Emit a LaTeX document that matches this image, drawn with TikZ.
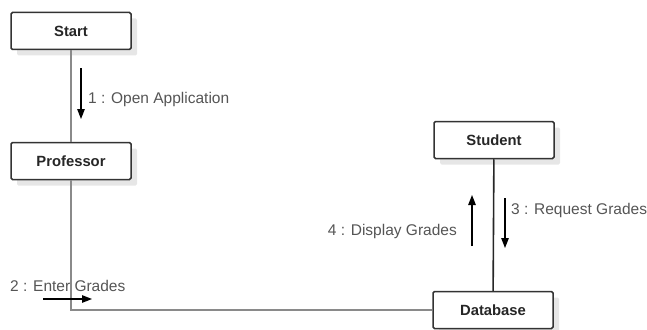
\documentclass[tikz,border=0pt]{standalone}
\usepackage{fontspec}
\setmainfont{Liberation Sans}
\usetikzlibrary{arrows.meta,shadows}
\definecolor{boxline}{HTML}{333333}
\definecolor{linkgray}{HTML}{8A8A8A}
\definecolor{msgtext}{HTML}{555555}
\definecolor{shadowgray}{HTML}{E6E6E6}
\tikzset{
  obj/.style={draw=boxline, line width=1.5pt, rounded corners=1.5pt, fill=white,
    minimum width=120pt, minimum height=37pt, inner sep=0pt,
    font=\fontsize{14.8}{17}\selectfont\bfseries, text=black!85,
    drop shadow={shadow xshift=6pt, shadow yshift=-6pt, fill=shadowgray, opacity=1}},
  link/.style={draw=linkgray, line width=1.1pt},
  darklink/.style={draw=black!85, line width=1.6pt},
  msg/.style={draw=black, line width=1.3pt, -{Triangle[length=10pt,width=7.5pt]}},
  msglabel/.style={font=\fontsize{15.5}{18}\selectfont, text=msgtext, inner sep=0pt}
}
\begin{document}
\begin{tikzpicture}[x=1pt,y=-1pt]
  \useasboundingbox (0,0) rectangle (647,329);

  % objects
  \node[obj] (start) at (71,31) {Start};
  \node[obj] (prof) at (71,161) {Professor};
  \node[obj] (stud) at (494,140) {Student};
  \node[obj] (db) at (493,310) {Database};

  % links between objects
  \draw[link] (start) -- (prof);
  \draw[link] (prof.south) |- (db.west);
  \draw[darklink] (stud) -- (db);

  % message 1
  \coordinate (m1a) at (81,68);
  \coordinate (m1b) at (81,119);
  \draw[msg] (m1a) -- (m1b);
  \node[msglabel, anchor=west] (l1) at (88,99) {1 : Open Application};

  % message 2
  \coordinate (m2a) at (43,299);
  \coordinate (m2b) at (92,299);
  \draw[msg] (m2a) -- (m2b);
  \node[msglabel, anchor=west] (l2) at (10,286) {2 : Enter Grades};

  % message 3
  \coordinate (m3a) at (505,198);
  \coordinate (m3b) at (505,248);
  \draw[msg] (m3a) -- (m3b);
  \node[msglabel, anchor=west] (l3) at (511,210) {3 : Request Grades};

  % message 4
  \coordinate (m4a) at (472,246);
  \coordinate (m4b) at (472,195);
  \draw[msg] (m4a) -- (m4b);
  \node[msglabel, anchor=east] (l4) at (457,231) {4 : Display Grades};
\end{tikzpicture}
\end{document}
